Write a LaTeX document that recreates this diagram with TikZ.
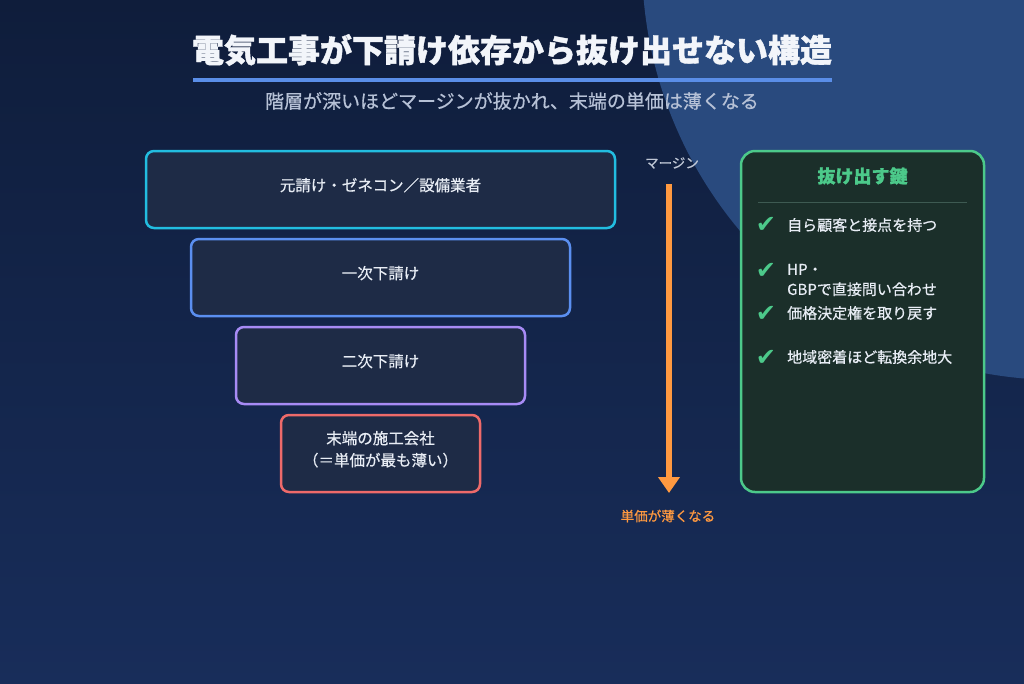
\documentclass[tikz,border=0pt]{standalone}
\usepackage{fontspec}
\setmainfont{Noto Sans CJK JP}
\newfontfamily\medfont[RawFeature={embolden=0.6}]{Noto Sans CJK JP}
\newfontfamily\heavyfont[BoldFeatures={RawFeature={embolden=1.2}}]{Noto Sans CJK JP}
\newfontfamily\symfont{DejaVu Sans}
\usetikzlibrary{arrows.meta}
\definecolor{bgtop}{HTML}{0F1D3B}
\definecolor{bgbot}{HTML}{182D5A}
\definecolor{circc}{HTML}{294A7E}
\definecolor{titlec}{HTML}{F2F5FA}
\definecolor{ulc}{HTML}{5A8EE8}
\definecolor{subc}{HTML}{B6C1D6}
\definecolor{boxfill}{HTML}{1E2B46}
\definecolor{cA}{HTML}{22BDE0}
\definecolor{cB}{HTML}{5B8FF0}
\definecolor{cC}{HTML}{A78BF5}
\definecolor{cD}{HTML}{EE6A6A}
\definecolor{txtc}{HTML}{E8EDF5}
\definecolor{orangec}{HTML}{FF9940}
\definecolor{graytxt}{HTML}{C0C8D6}
\definecolor{panelfill}{HTML}{1B2F2A}
\definecolor{greenc}{HTML}{4CC98A}
\definecolor{sepc}{HTML}{3E5A52}
\tikzset{
  tier/.style={draw, fill=boxfill, line width=2.5pt, rounded corners=8pt,
    minimum height=77pt, text=txtc, font=\medfont\fontsize{15.5}{22}\selectfont,
    align=center, inner sep=0pt, text depth=10pt},
  item/.style={anchor=west, text=txtc, font=\medfont\fontsize{15}{20}\selectfont,
    align=left, inner sep=0pt},
  check/.style={text=greenc, font=\symfont\fontsize{24}{24}\selectfont, inner sep=0pt},
}
\begin{document}
\begin{tikzpicture}[x=1pt,y=-1pt]
\useasboundingbox (0,0) rectangle (1024,683);
\fill[top color=bgtop, bottom color=bgbot] (0,0) rectangle (1024,683);
\begin{scope}
  \clip (0,0) rectangle (1024,683);
  \fill[circc] (1060,-38) circle[radius=418pt];
\end{scope}

% title
\node[text=titlec, font=\heavyfont\bfseries\fontsize{32}{36}\selectfont, inner sep=0pt] (title) at (512,50) {電気工事が下請け依存から抜け出せない構造};
\draw[ulc, line width=4pt] (193,80) -- (832,80);
\node[text=subc, font=\medfont\fontsize{19}{22}\selectfont, inner sep=0pt] (sub) at (512,101) {階層が深いほどマージンが抜かれ、末端の単価は薄くなる};

% tiers
\node[tier, draw=cA, minimum width=469pt] (t1) at (380.5,189.5) {元請け・ゼネコン／設備業者};
\node[tier, draw=cB, minimum width=379pt] (t2) at (380.5,277.5) {一次下請け};
\node[tier, draw=cC, minimum width=289pt] (t3) at (380.5,365.5) {二次下請け};
\node[tier, draw=cD, minimum width=199pt] (t4) at (380.5,453.5) {末端の施工会社\\（＝単価が最も薄い）};

% arrow
\node[text=graytxt, font=\medfont\fontsize{13.5}{16}\selectfont, inner sep=0pt] (mg) at (672,163) {マージン};
\node[text=orangec, font=\medfont\fontsize{13.5}{16}\selectfont, inner sep=0pt] (th) at (668,516) {単価が薄くなる};
\coordinate (arrS) at (669,184);
\coordinate (arrE) at (669,493);
\draw[orangec, line width=6pt, -{Triangle[width=21pt,length=16pt]}] (arrS) -- (arrE);

% panel
\node[draw=greenc, fill=panelfill, line width=2.5pt, rounded corners=14pt,
  minimum width=243pt, minimum height=341pt, inner sep=0pt] (panel) at (862.5,321.5) {};
\node[text=greenc, font=\heavyfont\bfseries\fontsize{18}{22}\selectfont, inner sep=0pt] (ptitle) at (862.5,176) {抜け出す鍵};
\draw[sepc, line width=1pt] (758,202) -- (967,202);

\node[check] (k1) at (766,225) {✔};
\node[item] (i1) at (787,225) {自ら顧客と接点を持つ};
\node[check] (k2) at (766,271) {✔};
\node[item] (i2) at (787,280) {HP・\\GBPで直接問い合わせ};
\node[check] (k3) at (766,314) {✔};
\node[item] (i3) at (787,313) {価格決定権を取り戻す};
\node[check] (k4) at (766,358) {✔};
\node[item] (i4) at (787,357) {地域密着ほど転換余地大};
\end{tikzpicture}
\end{document}
